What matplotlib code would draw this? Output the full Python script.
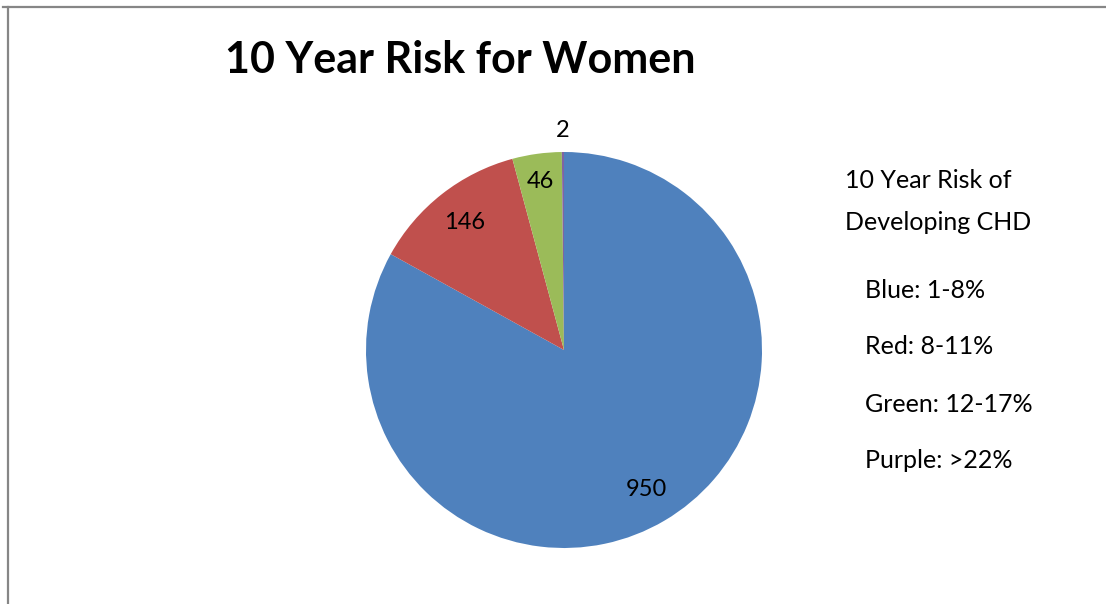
import matplotlib.pyplot as plt
from matplotlib.lines import Line2D
import numpy as np

plt.rcParams['font.family'] = ['Lato', 'DejaVu Sans']

# Data
categories = ['Blue: 1-8%', 'Red: 8-11%', 'Green: 12-17%', 'Purple: >22%']
counts = [950, 146, 46, 2]
colors = ['#4F81BD', '#C0504D', '#9BBB59', '#8064A2']
label_dist = [0.82, 0.815, 0.86, 1.11]

W, H = 1106, 604
fig = plt.figure(figsize=(W / 100, H / 100), dpi=100)

# outer chart border (top and left only visible)
fig.add_artist(Line2D([3 / W, 1], [1 - 6.5 / H, 1 - 6.5 / H], color='#868686', lw=1.6))
fig.add_artist(Line2D([8 / W, 8 / W], [1 - 6.5 / H, 0], color='#868686', lw=1.6))

# pie centred at (564, 350) px with radius 198 px
cx, cy, r = 564, 350, 198
ax = fig.add_axes([(cx - r) / W, (H - cy - r) / H, 2 * r / W, 2 * r / H])
wedges, _ = ax.pie(counts, colors=colors, startangle=90, counterclock=False,
                   wedgeprops=dict(linewidth=0))
ax.set_xlim(-1, 1)
ax.set_ylim(-1, 1)
ax.axis('off')

for w, v, d in zip(wedges, counts, label_dist):
    ang = np.deg2rad((w.theta1 + w.theta2) / 2)
    ax.text(d * np.cos(ang), d * np.sin(ang), str(v), ha='center', va='center',
            fontsize=17, clip_on=False)

fig.text(460 / W, 1 - 60 / H, '10 Year Risk for Women', ha='center', va='center',
         fontsize=31, fontweight='bold')

fig.text(845 / W, 1 - 180 / H, '10 Year Risk of', ha='left', va='center', fontsize=18)
fig.text(845 / W, 1 - 222 / H, 'Developing CHD', ha='left', va='center', fontsize=18)
for i, cat in enumerate(categories):
    y = 290 + i * 57
    fig.text(865 / W, 1 - y / H, cat, ha='left', va='center', fontsize=18)

fig.savefig('out.png', dpi=100)
